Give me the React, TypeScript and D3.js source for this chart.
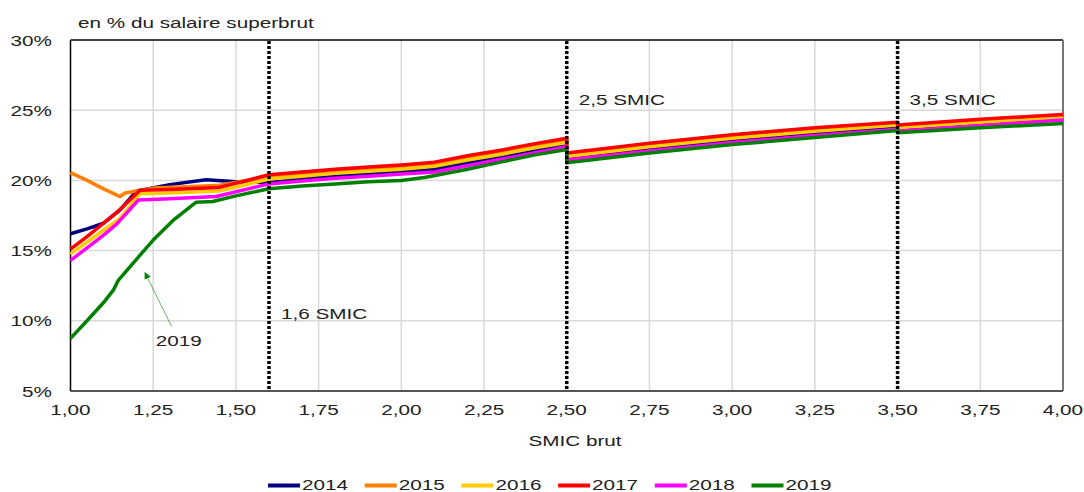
import React from 'react';
import * as d3 from 'd3';

type P = [number, number];

const years = ['2014', '2015', '2016', '2017', '2018', '2019'];
const colors = ['#000080', '#FF8000', '#FFCC00', '#FF0000', '#FF00FF', '#008000'];
const xTicks = [1, 1.25, 1.5, 1.75, 2, 2.25, 2.5, 2.75, 3, 3.25, 3.5, 3.75, 4];
const yTicks = [5, 10, 15, 20, 25, 30];
const refLines = [1.6, 2.5, 3.5];
const refLabels = ['1,6 SMIC', '2,5 SMIC', '3,5 SMIC'];
const refLabelY = [10.13, 25.37, 25.37];

const s2014: P[] = [[1.0, 16.2], [1.05, 16.55], [1.1, 16.95], [1.15, 17.9], [1.2, 19.25], [1.3, 19.7], [1.41, 20.05], [1.5, 19.9], [1.6, 19.85], [1.7, 20.1], [1.8, 20.3], [1.9, 20.45], [2.0, 20.6], [2.1, 20.8], [2.2, 21.25], [2.3, 21.65], [2.4, 22.1], [2.5, 22.5], [2.5, 21.55], [2.75, 22.25], [3.0, 22.85], [3.25, 23.35], [3.5, 23.8], [3.5, 23.6], [3.75, 24.0], [4.0, 24.42]];
const s2015: P[] = [[1.0, 20.55], [1.05, 20.0], [1.1, 19.4], [1.15, 18.85], [1.165, 19.1], [1.25, 19.45], [1.35, 19.55], [1.45, 19.65], [1.6, 20.25], [1.7, 20.45], [1.8, 20.65], [1.9, 20.8], [2.0, 20.95], [2.1, 21.15], [2.2, 21.6], [2.3, 22.0], [2.4, 22.45], [2.5, 22.85], [2.5, 21.85], [2.75, 22.55], [3.0, 23.15], [3.25, 23.65], [3.5, 24.05], [3.5, 23.85], [3.75, 24.25], [4.0, 24.6]];
const s2016: P[] = [[1.0, 14.75], [1.05, 15.6], [1.1, 16.45], [1.15, 17.3], [1.21, 19.05], [1.3, 19.1], [1.45, 19.25], [1.6, 20.1], [1.7, 20.3], [1.8, 20.5], [1.9, 20.65], [2.0, 20.8], [2.1, 21.0], [2.2, 21.45], [2.3, 21.85], [2.4, 22.3], [2.5, 22.7], [2.5, 21.7], [2.75, 22.4], [3.0, 23.0], [3.25, 23.5], [3.5, 23.95], [3.5, 23.75], [3.75, 24.15], [4.0, 24.5]];
const s2017: P[] = [[1.0, 15.1], [1.05, 16.0], [1.1, 16.95], [1.144, 17.8], [1.21, 19.3], [1.3, 19.35], [1.45, 19.5], [1.6, 20.4], [1.7, 20.6], [1.8, 20.8], [1.9, 20.95], [2.0, 21.1], [2.1, 21.3], [2.2, 21.75], [2.3, 22.15], [2.4, 22.6], [2.5, 23.0], [2.5, 21.95], [2.75, 22.65], [3.0, 23.25], [3.25, 23.75], [3.5, 24.15], [3.5, 23.95], [3.75, 24.35], [4.0, 24.7]];
const s2018: P[] = [[1.0, 14.3], [1.05, 15.2], [1.1, 16.1], [1.14, 16.9], [1.205, 18.6], [1.3, 18.7], [1.44, 18.85], [1.6, 19.75], [1.7, 19.95], [1.8, 20.15], [1.9, 20.3], [2.0, 20.45], [2.1, 20.6], [2.2, 21.05], [2.3, 21.5], [2.4, 21.95], [2.5, 22.4], [2.5, 21.45], [2.75, 22.1], [3.0, 22.7], [3.25, 23.2], [3.5, 23.65], [3.5, 23.5], [3.75, 23.9], [4.0, 24.3]];
const s2019: P[] = [[1.0, 8.75], [1.05, 10.0], [1.1, 11.3], [1.13, 12.2], [1.145, 12.9], [1.2, 14.4], [1.25, 15.75], [1.31, 17.15], [1.38, 18.45], [1.43, 18.5], [1.5, 18.9], [1.6, 19.4], [1.7, 19.6], [1.8, 19.75], [1.9, 19.9], [2.0, 20.0], [2.07, 20.2], [2.2, 20.8], [2.3, 21.3], [2.4, 21.8], [2.5, 22.2], [2.5, 21.25], [2.75, 21.95], [3.0, 22.55], [3.25, 23.05], [3.5, 23.55], [3.5, 23.4], [3.75, 23.75], [4.0, 24.05]];
const series = [s2014, s2015, s2016, s2017, s2018, s2019];

const arrowFrom: P = [1.306, 9.58];
const arrowTo: P = [1.225, 13.43];
const arrowLabel = '2019';
const arrowLabelPos: P = [1.327, 8.2];

const W = 1084;
const H = 492;
const M = { left: 70.5, right: 1063, top: 40, bottom: 391 };
const SX = 1.38;
const FONT = '"Liberation Sans", Arial, sans-serif';
const TXT = '#222';

const x = d3.scaleLinear().domain([1, 4]).range([M.left, M.right]);
const y = d3.scaleLinear().domain([5, 30]).range([M.bottom, M.top]);
const line = d3.line<P>().x((d) => x(d[0])).y((d) => y(d[1]));
const fmtX = (v: number) => d3.format('.2f')(v).replace('.', ',');

function T({ px, py, anchor = 'start', children }: { px: number; py: number; anchor?: string; children: React.ReactNode }) {
  return (
    <text
      transform={`translate(${px},${py}) scale(${SX},1)`}
      textAnchor={anchor as any}
      fontFamily={FONT}
      fontSize={15}
      fill={TXT}
    >
      {children}
    </text>
  );
}

export default function App() {
  return (
    <svg
      width={W}
      height={H}
      style={{ position: 'fixed', left: 0, top: 0, background: '#fff' }}
    >
      <defs>
        <marker id="ah" viewBox="0 0 10 10" refX="9" refY="5" markerWidth="7" markerHeight="7" orient="auto-start-reverse">
          <path d="M0,0 L10,5 L0,10 z" fill="#008000" />
        </marker>
      </defs>
      {xTicks.slice(1, -1).map((t) => (
        <line key={'gx' + t} x1={x(t)} x2={x(t)} y1={M.top} y2={M.bottom} stroke="#d9d9d9" strokeWidth={1.5} />
      ))}
      {yTicks.slice(1, -1).map((t) => (
        <line key={'gy' + t} x1={M.left} x2={M.right} y1={y(t)} y2={y(t)} stroke="#d9d9d9" strokeWidth={1.5} />
      ))}
      <line x1={M.left} x2={M.right} y1={M.top} y2={M.top} stroke="#000" strokeWidth={1.5} />
      <line x1={M.right} x2={M.right} y1={M.top} y2={M.bottom} stroke="#777" strokeWidth={2} />
      <line x1={M.left} x2={M.right} y1={M.bottom} y2={M.bottom} stroke="#555" strokeWidth={2} />
      <line x1={M.left} x2={M.left} y1={M.top} y2={M.bottom} stroke="#000" strokeWidth={1.5} />
      {series.map((s, i) => (
        <path key={years[i]} d={line(s) || ''} fill="none" stroke={colors[i]} strokeWidth={3.5} strokeLinejoin="round" />
      ))}
      {refLines.map((r) => (
        <line key={'r' + r} x1={x(r)} x2={x(r)} y1={M.top + 1} y2={M.bottom} stroke="#000" strokeWidth={3.5} strokeDasharray="3,2" />
      ))}
      {refLines.map((r, i) => (
        <T key={'rl' + r} px={x(r) + 12} py={y(refLabelY[i])}>{refLabels[i]}</T>
      ))}
      <line
        x1={x(arrowFrom[0])}
        y1={y(arrowFrom[1])}
        x2={x(arrowTo[0])}
        y2={y(arrowTo[1])}
        stroke="#008000"
        strokeOpacity={0.6}
        strokeWidth={1}
        markerEnd="url(#ah)"
      />
      <T px={x(arrowLabelPos[0])} py={y(arrowLabelPos[1])} anchor="middle">{arrowLabel}</T>
      {yTicks.map((t) => (
        <T key={'yt' + t} px={52} py={y(t) + 5.5} anchor="end">{`${t}%`}</T>
      ))}
      {xTicks.map((t) => (
        <T key={'xt' + t} px={x(t)} py={415} anchor="middle">{fmtX(t)}</T>
      ))}
      <T px={78} py={28}>en % du salaire superbrut</T>
      <T px={575} py={446} anchor="middle">SMIC brut</T>
      {years.map((yr, i) => {
        const lx = 268 + i * 96.7;
        return (
          <g key={'lg' + yr}>
            <line x1={lx} x2={lx + 32} y1={485.5} y2={485.5} stroke={colors[i]} strokeWidth={4} />
            <T px={lx + 34} py={490}>{yr}</T>
          </g>
        );
      })}
    </svg>
  );
}
